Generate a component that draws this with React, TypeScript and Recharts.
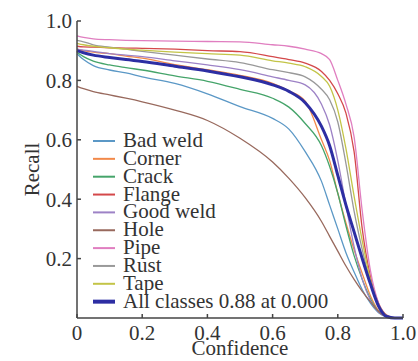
import { Label, Line, LineChart, XAxis, YAxis } from 'recharts';

const confidence = [0, 0.02, 0.05, 0.1, 0.15, 0.2, 0.3, 0.4, 0.5, 0.6, 0.65, 0.7, 0.75, 0.775, 0.8, 0.825, 0.85, 0.875, 0.9, 0.925, 0.95, 0.975, 1.0];

const badWeld = [0.89, 0.87, 0.85, 0.835, 0.825, 0.812, 0.79, 0.755, 0.712, 0.672, 0.636, 0.56, 0.46, 0.38, 0.3, 0.22, 0.155, 0.095, 0.05, 0.018, 0.004, 0, 0];
const corner = [0.905, 0.9, 0.895, 0.89, 0.882, 0.875, 0.853, 0.836, 0.817, 0.79, 0.765, 0.73, 0.6, 0.53, 0.42, 0.32, 0.23, 0.15, 0.075, 0.025, 0.005, 0, 0];
const crack = [0.895, 0.88, 0.865, 0.852, 0.843, 0.835, 0.815, 0.797, 0.77, 0.74, 0.71, 0.655, 0.58, 0.51, 0.42, 0.31, 0.21, 0.13, 0.065, 0.022, 0.005, 0, 0];
const flange = [0.915, 0.913, 0.912, 0.91, 0.909, 0.908, 0.905, 0.9, 0.897, 0.88, 0.87, 0.858, 0.83, 0.8, 0.755, 0.69, 0.56, 0.3, 0.14, 0.05, 0.01, 0, 0];
const goodWeld = [0.905, 0.902, 0.898, 0.89, 0.885, 0.88, 0.866, 0.852, 0.836, 0.812, 0.8, 0.785, 0.72, 0.65, 0.53, 0.38, 0.24, 0.13, 0.06, 0.02, 0.004, 0, 0];
const hole = [0.78, 0.772, 0.762, 0.751, 0.74, 0.728, 0.7, 0.665, 0.605, 0.525, 0.47, 0.405, 0.325, 0.275, 0.225, 0.175, 0.13, 0.09, 0.055, 0.022, 0.004, 0, 0];
const pipe = [0.95, 0.945, 0.94, 0.937, 0.935, 0.934, 0.932, 0.931, 0.93, 0.92, 0.915, 0.905, 0.89, 0.87, 0.8, 0.72, 0.61, 0.36, 0.16, 0.05, 0.008, 0, 0];
const rust = [0.935, 0.93, 0.92, 0.912, 0.905, 0.898, 0.885, 0.872, 0.86, 0.836, 0.826, 0.812, 0.77, 0.735, 0.66, 0.52, 0.36, 0.23, 0.12, 0.04, 0.007, 0, 0];
const tape = [0.925, 0.92, 0.915, 0.91, 0.905, 0.902, 0.895, 0.89, 0.885, 0.866, 0.858, 0.846, 0.813, 0.78, 0.7, 0.57, 0.41, 0.26, 0.13, 0.045, 0.008, 0, 0];
const allClasses = [0.9, 0.893, 0.885, 0.877, 0.87, 0.864, 0.848, 0.832, 0.812, 0.785, 0.763, 0.725, 0.645, 0.58, 0.48, 0.38, 0.29, 0.2, 0.115, 0.04, 0.005, 0, 0];

const xTicks = [0, 0.2, 0.4, 0.6, 0.8, 1.0];
const yTicks = [0.2, 0.4, 0.6, 0.8, 1.0];

const series = [
  { key: 'badWeld', name: 'Bad weld', values: badWeld, color: '#5b98c6' },
  { key: 'corner', name: 'Corner', values: corner, color: '#f2894a' },
  { key: 'crack', name: 'Crack', values: crack, color: '#45a46a' },
  { key: 'flange', name: 'Flange', values: flange, color: '#d4484a' },
  { key: 'goodWeld', name: 'Good weld', values: goodWeld, color: '#9d82c6' },
  { key: 'hole', name: 'Hole', values: hole, color: '#98695d' },
  { key: 'pipe', name: 'Pipe', values: pipe, color: '#e07ec0' },
  { key: 'rust', name: 'Rust', values: rust, color: '#999999' },
  { key: 'tape', name: 'Tape', values: tape, color: '#c3c447' },
  { key: 'all', name: 'All classes 0.88 at 0.000', values: allClasses, color: '#2d2ea3' },
];

const data = confidence.map((x, i) => {
  const row: Record<string, number> = { x };
  series.forEach((s) => {
    row[s.key] = s.values[i];
  });
  return row;
});

const font = "'Liberation Serif'";
const fontSize = 21;
const axisColor = '#444';

// legend sits inside the plot, rows packed tighter than the font size like the original
function RecallLegend() {
  return (
    <svg width={250} height={200} style={{ position: 'absolute', left: 88, top: 120, overflow: 'visible' }}>
      {series.map((s, i) => {
        const y = 21 + i * 17.85;
        return (
          <g key={s.key}>
            <line x1={5} x2={27} y1={y} y2={y} stroke={s.color} strokeWidth={s.key === 'all' ? 4 : 2} />
            <text x={35} y={y + 6} fontFamily={font} fontSize={fontSize} fill="#333">
              {s.name}
            </text>
          </g>
        );
      })}
    </svg>
  );
}

export default function App() {
  return (
    <div style={{ position: 'absolute', left: 0, top: 0, width: 418, height: 361, background: '#fff' }}>
      <LineChart width={418} height={361} data={data} margin={{ top: 21, right: 15, bottom: 0, left: 0 }}>
        <XAxis
          dataKey="x"
          type="number"
          domain={[0, 1]}
          ticks={xTicks}
          height={43}
          tickSize={-4}
          tickMargin={11}
          tickFormatter={(v: number) => (v === 0 ? '0' : v.toFixed(1))}
          tick={{ fontFamily: font, fontSize, fill: '#333' }}
          axisLine={{ stroke: axisColor, strokeWidth: 1.5 }}
          tickLine={{ stroke: axisColor, strokeWidth: 1.5 }}
        >
          <Label value="Confidence" position="insideBottom" offset={6} fontFamily={font} fontSize={fontSize} fill="#333" />
        </XAxis>
        <YAxis
          type="number"
          domain={[0, 1]}
          ticks={yTicks}
          width={77}
          tickSize={-4}
          tickMargin={9}
          tickFormatter={(v: number) => v.toFixed(1)}
          tick={{ fontFamily: font, fontSize, fill: '#333' }}
          axisLine={{ stroke: axisColor, strokeWidth: 1.5 }}
          tickLine={{ stroke: axisColor, strokeWidth: 1.5 }}
        >
          <Label
            value="Recall"
            angle={-90}
            position="insideLeft"
            offset={32}
            style={{ textAnchor: 'middle' }}
            fontFamily={font}
            fontSize={fontSize}
            fill="#333"
          />
        </YAxis>
        {series.map((s) => (
          <Line
            key={s.key}
            type="monotone"
            dataKey={s.key}
            stroke={s.color}
            strokeWidth={s.key === 'all' ? 3 : 1.3}
            dot={false}
            isAnimationActive={false}
          />
        ))}
      </LineChart>
      <RecallLegend />
    </div>
  );
}
